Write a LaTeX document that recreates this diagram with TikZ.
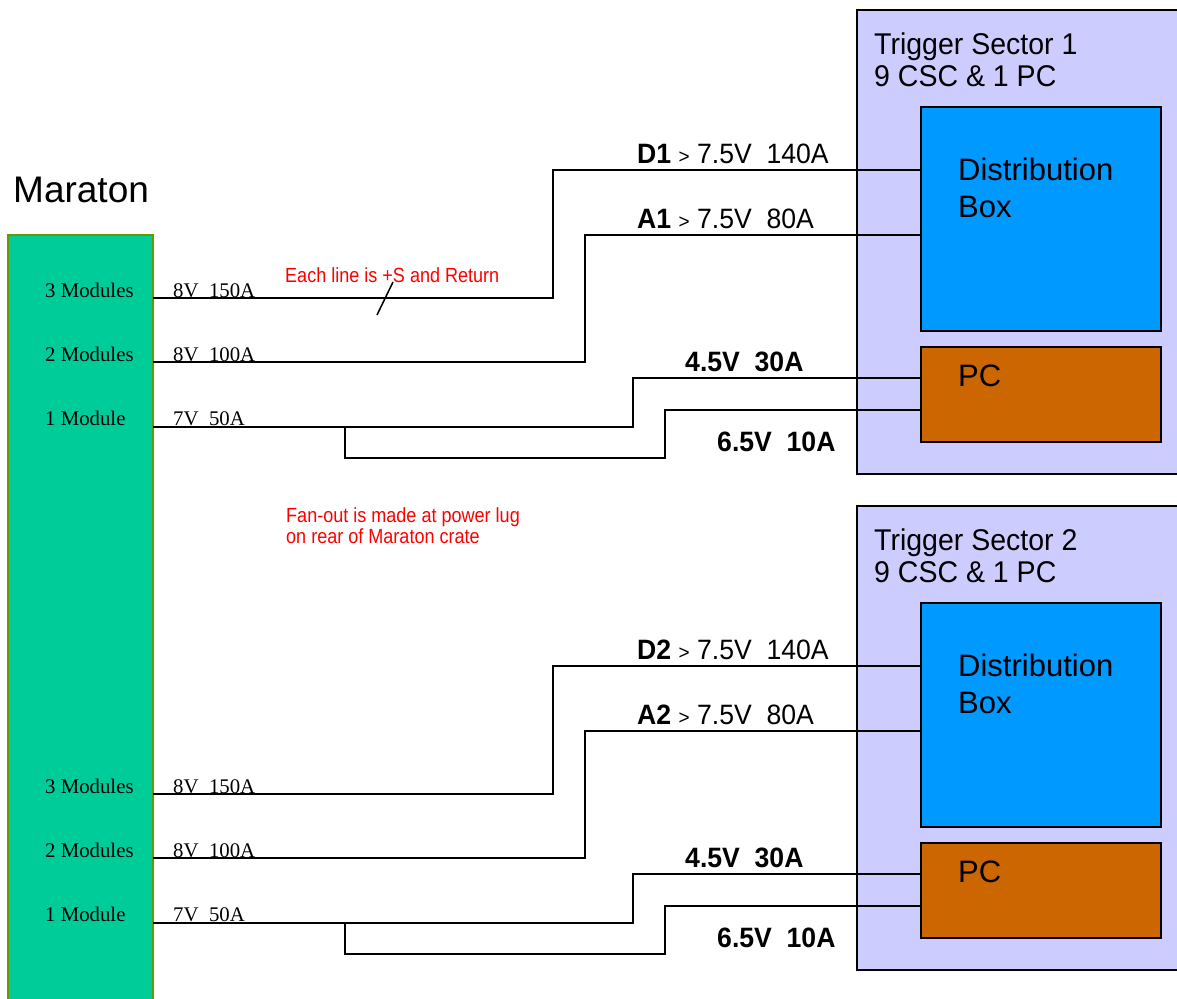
\documentclass[tikz,border=0pt]{standalone}
\usepackage{fontspec}
\setmainfont{Liberation Serif}
\newfontfamily\arialfont{Liberation Sans}
\newfontfamily\narrowfont[FakeStretch=0.95]{Liberation Sans}
\newfontfamily\notefont[FakeStretch=0.88]{Liberation Sans}
\usetikzlibrary{calc,positioning}

\definecolor{maratongreen}{RGB}{0,204,153}
\definecolor{maratonedge}{RGB}{102,153,0}
\definecolor{sectorfill}{RGB}{204,204,255}
\definecolor{distblue}{RGB}{0,153,255}
\definecolor{pcbrown}{RGB}{204,102,0}
\definecolor{notered}{RGB}{255,0,0}

\begin{document}
\begin{tikzpicture}[
    x=1pt, y=-1pt,
    box/.style={draw=black, line width=2pt, inner sep=0pt, outer sep=0pt, anchor=north west},
    crate/.style={box, draw=maratonedge, fill=maratongreen, minimum width=145pt, minimum height=780pt},
    sector/.style={box, fill=sectorfill, minimum width=330pt, minimum height=464pt},
    distbox/.style={box, fill=distblue, minimum width=240pt, minimum height=224pt},
    pcbox/.style={box, fill=pcbrown, minimum width=240pt, minimum height=95pt},
    wire/.style={line width=2pt},
    modtext/.style={anchor=base west, inner sep=0pt, font=\fontsize{20.8}{24}\selectfont},
    feedtext/.style={anchor=base west, inner sep=0pt, font=\narrowfont\fontsize{28}{30}\selectfont},
    sectitle/.style={anchor=north west, inner sep=0pt, align=left, font=\narrowfont\fontsize{30}{32}\selectfont},
    boxtext/.style={anchor=north west, inner sep=0pt, align=left, font=\arialfont\fontsize{31}{37}\selectfont},
    note/.style={anchor=north west, inner sep=0pt, align=left, text=notered, font=\notefont\fontsize{20.5}{21}\selectfont}
]
\useasboundingbox (0,0) rectangle (1177,998);

% Maraton crate
\node[anchor=base west, inner sep=0pt, font=\arialfont\fontsize{37}{40}\selectfont] (maratontitle) at (13,202) {Maraton};
\node[crate] (maraton) at (8,235) {};

% trigger sector 1
\node[sector] (sector1) at (857,10) {};
\node[sectitle] (s1title) at (874,33) {Trigger Sector 1\\9 CSC \& 1 PC};
\node[distbox] (dist1) at (921,107) {};
\node[boxtext] (dist1text) at (958,158) {Distribution\\Box};
\node[pcbox] (pc1) at (921,347) {};
\node[boxtext] (pc1text) at (958,365) {PC};

% trigger sector 2
\node[sector] (sector2) at (857,506) {};
\node[sectitle] (s2title) at (874,529) {Trigger Sector 2\\9 CSC \& 1 PC};
\node[distbox] (dist2) at (921,603) {};
\node[boxtext] (dist2text) at (958,654) {Distribution\\Box};
\node[pcbox] (pc2) at (921,843) {};
\node[boxtext] (pc2text) at (958,861) {PC};

% module outputs
\node[modtext] (mod3a) at (45,297) {3 Modules};
\node[modtext] (mod2a) at (45,361) {2 Modules};
\node[modtext] (mod1a) at (45,425) {1 Module};
\node[modtext] (mod3b) at (45,793) {3 Modules};
\node[modtext] (mod2b) at (45,857) {2 Modules};
\node[modtext] (mod1b) at (45,921) {1 Module};

\node[modtext] (out3alabel) at (173,297) {8V\ \ 150A};
\node[modtext] (out2alabel) at (173,361) {8V\ \ 100A};
\node[modtext] (out1alabel) at (173,425) {7V\ \ 50A};
\node[modtext] (out3blabel) at (173,793) {8V\ \ 150A};
\node[modtext] (out2blabel) at (173,857) {8V\ \ 100A};
\node[modtext] (out1blabel) at (173,921) {7V\ \ 50A};

\coordinate (out3a) at (maraton.east |- 0,298);
\coordinate (out2a) at (maraton.east |- 0,362);
\coordinate (out1a) at (maraton.east |- 0,427);
\coordinate (fan1a) at (345,427);
\coordinate (out3b) at (maraton.east |- 0,794);
\coordinate (out2b) at (maraton.east |- 0,858);
\coordinate (out1b) at (maraton.east |- 0,923);
\coordinate (fan1b) at (345,923);

% feed labels
\node[feedtext] (feedD1) at (637,163) {\textbf{D1} {\fontsize{20}{20}\selectfont >} 7.5V\ \ 140A};
\node[feedtext] (feedA1) at (637,228) {\textbf{A1} {\fontsize{20}{20}\selectfont >} 7.5V\ \ 80A};
\node[feedtext] (feedPa) at (685,371) {\textbf{4.5V\ \ 30A}};
\node[feedtext] (feedPb) at (717,451) {\textbf{6.5V\ \ 10A}};
\node[feedtext] (feedD2) at (637,659) {\textbf{D2} {\fontsize{20}{20}\selectfont >} 7.5V\ \ 140A};
\node[feedtext] (feedA2) at (637,724) {\textbf{A2} {\fontsize{20}{20}\selectfont >} 7.5V\ \ 80A};
\node[feedtext] (feedPc) at (685,867) {\textbf{4.5V\ \ 30A}};
\node[feedtext] (feedPd) at (717,947) {\textbf{6.5V\ \ 10A}};

% wires
\draw[wire] (out3a) -- (553,298) |- (dist1.west |- 0,170);
\draw[wire] (out2a) -- (585,362) |- (dist1.west |- 0,235);
\draw[wire] (out1a) -- (633,427) |- (pc1.west |- 0,378);
\draw[wire] (fan1a) |- (665,458) |- (pc1.west |- 0,410);
\draw[wire] (out3b) -- (553,794) |- (dist2.west |- 0,666);
\draw[wire] (out2b) -- (585,858) |- (dist2.west |- 0,731);
\draw[wire] (out1b) -- (633,923) |- (pc2.west |- 0,874);
\draw[wire] (fan1b) |- (665,954) |- (pc2.west |- 0,906);

% notes
\node[note] (linenote) at (285,267) {Each line is +S and Return};
\draw[line width=1.5pt] (393,282) -- (377,315);
\node[note] (fannote) at (286,507) {Fan-out is made at power lug\\on rear of Maraton crate};
\end{tikzpicture}
\end{document}
